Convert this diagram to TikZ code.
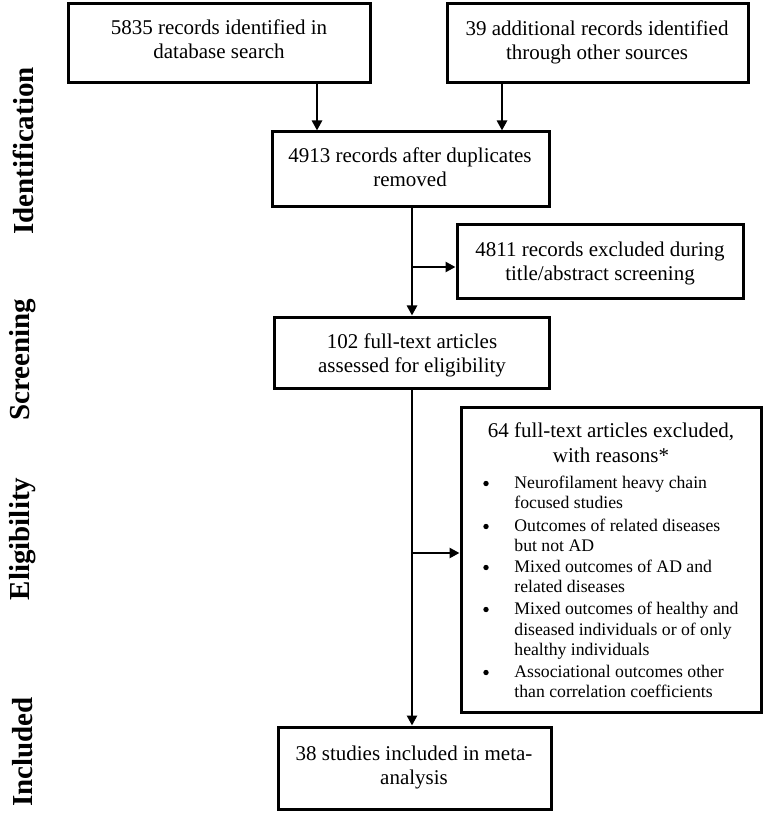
\documentclass[tikz,border=0pt]{standalone}
\usepackage{fontspec}
\setmainfont{Liberation Serif}
\usetikzlibrary{arrows.meta}
\begin{document}
\begin{tikzpicture}[x=0.5pt,y=-0.5pt,
  box/.style={draw, line width=1.5pt, inner sep=0pt},
  txt/.style={inner sep=0pt, anchor=base, font=\fontsize{10.5}{12}\selectfont},
  bultxt/.style={inner sep=0pt, anchor=base west, font=\fontsize{8.85}{10.25}\selectfont},
  buldot/.style={circle, fill=black, inner sep=0pt, minimum size=2.7pt},
  lab/.style={inner sep=0pt, rotate=90, font=\fontsize{14.5}{16}\selectfont\bfseries},
  arr/.style={line width=1.3pt, -{Triangle[length=5pt,width=5pt]}}]
\useasboundingbox (0,0) rectangle (765,823);

% boxes
\node[box, minimum width=151pt, minimum height=39.5pt] (b1) at (219,43.5) {};
\node[box, minimum width=150.5pt, minimum height=39.5pt] (b2) at (597.5,43.5) {};
\node[box, minimum width=138.5pt, minimum height=37.5pt] (b3) at (410.5,169.5) {};
\node[box, minimum width=143pt, minimum height=37pt] (b4) at (600,262) {};
\node[box, minimum width=137.5pt, minimum height=35.5pt] (b5) at (411.5,352.5) {};
\node[box, minimum width=150pt, minimum height=152.5pt] (b6) at (611,559.5) {};
\node[box, minimum width=136.5pt, minimum height=41pt] (b7) at (414.5,768) {};

% box texts
\node[txt] (t1a) at (219,35) {5835 records identified in};
\node[txt] (t1b) at (219,59) {database search};
\node[txt] (t2a) at (597,36) {39 additional records identified};
\node[txt] (t2b) at (597,60) {through other sources};
\node[txt] (t3a) at (410,163) {4913 records after duplicates};
\node[txt] (t3b) at (410,187) {removed};
\node[txt] (t4a) at (600,257) {4811 records excluded during};
\node[txt] (t4b) at (600,281) {title/abstract screening};
\node[txt] (t5a) at (412,348) {102 full-text articles};
\node[txt] (t5b) at (412,372) {assessed for eligibility};
\node[txt] (t6a) at (611,437) {64 full-text articles excluded,};
\node[txt] (t6b) at (611,462) {with reasons*};
\node[txt] (t7a) at (414,760) {38 studies included in meta-};
\node[txt] (t7b) at (414,784) {analysis};

% bullets
\foreach \y [count=\i] in {488,531,572,614,677}
  \node[buldot] (d\i) at (486,\y-4.5) {};
\foreach \y/\s [count=\i] in {488/Neurofilament heavy chain,
    508/focused studies,
    531/Outcomes of related diseases,
    551/but not AD,
    572/Mixed outcomes of AD and,
    592/related diseases,
    614/Mixed outcomes of healthy and,
    635/diseased individuals or of only,
    655/healthy individuals,
    677/Associational outcomes other,
    697/than correlation coefficients}
  \node[bultxt] (l\i) at (514,\y) {\s};

% side labels
\node[lab] (lid) at (23,151) {Identification};
\node[lab] (lsc) at (23,360) {Screening};
\node[lab] (lel) at (23,539) {Eligibility};
\node[lab] (lin) at (23,752) {Included};

% connectors
\coordinate (x1) at (317,0);
\coordinate (x2) at (502,0);
\coordinate (tr) at (412,0);
\coordinate (j1) at (412,267);
\coordinate (j2) at (412,553);
\draw[arr] (b1.south -| x1) -- (b3.north -| x1);
\draw[arr] (b2.south -| x2) -- (b3.north -| x2);
\draw[arr] (b3.south -| tr) -- (b5.north -| tr);
\draw[arr] (j1) -- (j1 -| b4.west);
\draw[arr] (b5.south -| tr) -- (b7.north -| tr);
\draw[arr] (j2) -- (j2 -| b6.west);
\end{tikzpicture}
\end{document}
